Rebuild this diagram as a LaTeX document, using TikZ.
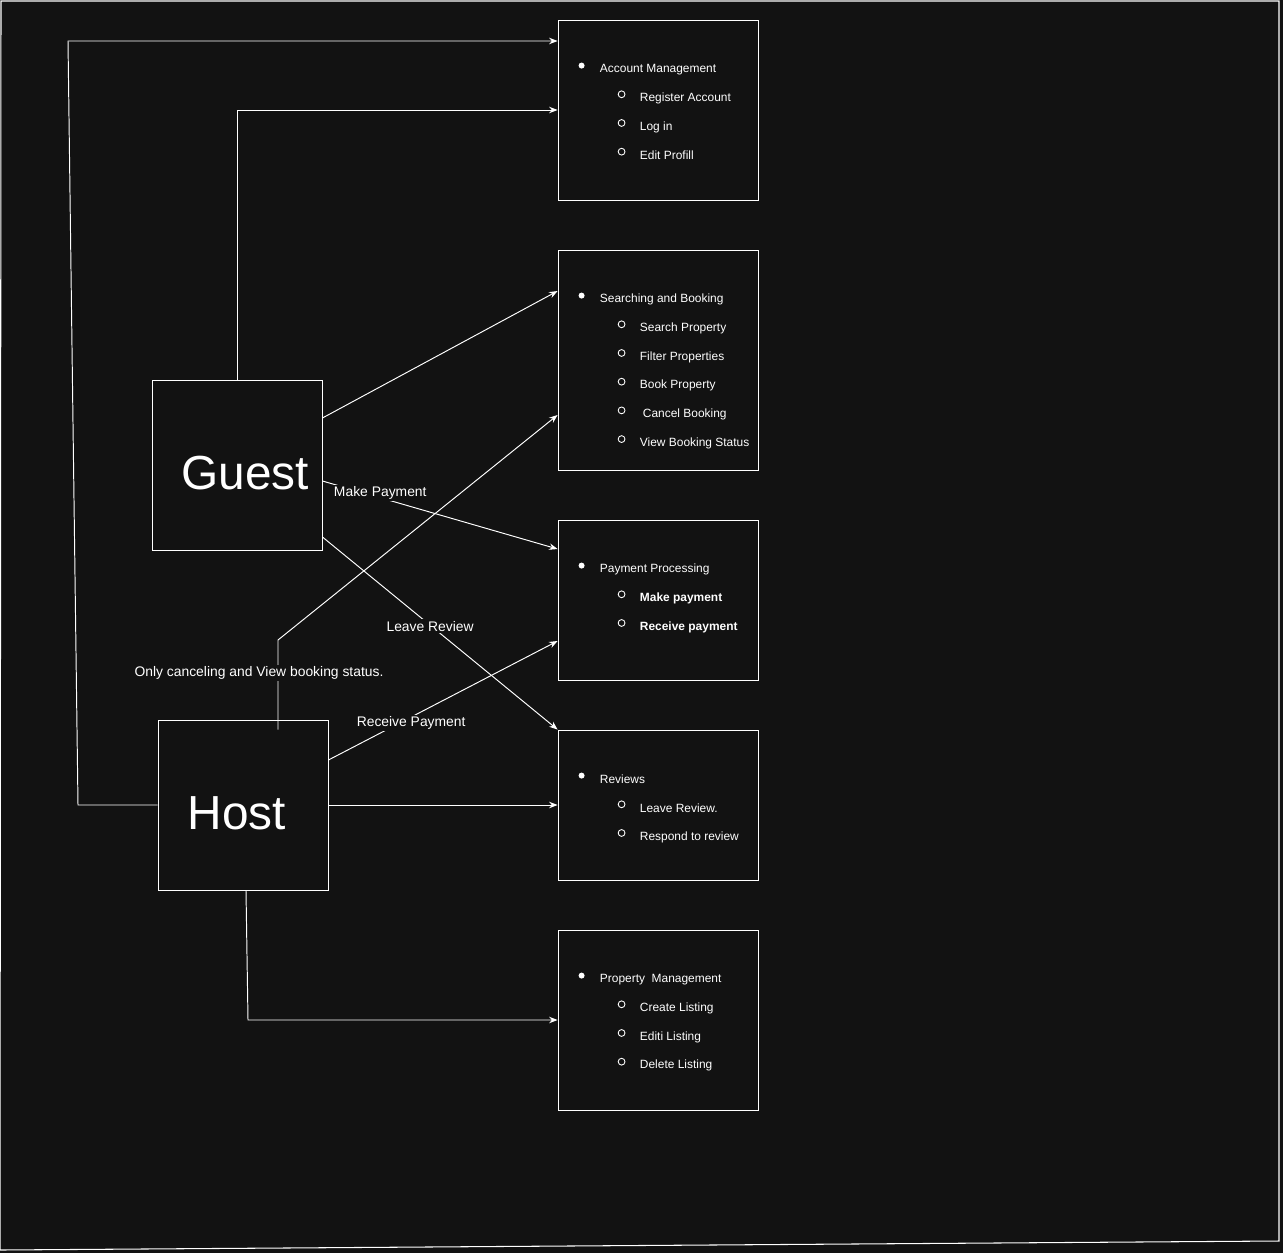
\documentclass[tikz,border=0pt]{standalone}
\usepackage{fontspec}
\setmainfont{Liberation Sans}
\usetikzlibrary{arrows.meta,calc}
\definecolor{bgdark}{RGB}{18,18,18}

\tikzset{
  box/.style={draw=white, line width=0.5pt, minimum width=4cm, inner sep=0pt},
  actor/.style={draw=white, line width=0.5pt, minimum width=3.4cm, minimum height=3.4cm, inner sep=0pt},
  bigtxt/.style={text=white, inner sep=0pt, font=\fontsize{27.2}{30}\selectfont},
  item/.style={anchor=west, inner sep=0pt, text=white, font=\fontsize{6.8}{8}\selectfont},
  lbl/.style={fill=bgdark, text=white, inner sep=1pt, font=\fontsize{7.9}{9}\selectfont},
  flow/.style={draw=white, line width=0.55pt, -{Stealth[length=1.7mm,width=1.3mm]}}
}

\begin{document}
\begin{tikzpicture}[x=0.02cm, y=-0.02cm]
  % background and frame
  \fill[bgdark] (0,0) rectangle (1283,1253);
  \useasboundingbox (0,0) rectangle (1283,1253);
  \draw[white, line width=0.6pt] (1,1) -- (1279,1) -- (1279,1241) -- (0,1250) -- cycle;

  % actors
  \node[actor] (guest) at (237,465) {};
  \node[bigtxt] at ([xshift=0.16cm,yshift=-0.17cm]guest) {Guest};
  \node[actor] (host) at (243,805) {};
  \node[bigtxt] at ([xshift=-0.12cm,yshift=-0.17cm]host) {Host};

  % account management
  \node[box, minimum height=3.6cm] (acct) at (658,110) {};
  \fill[white] ($(acct.north west)+(24,46)$) circle (0.06cm);
  \node[item] at ($(acct.north west)+(42,50)$) {Account Management};
  \foreach \t [count=\i] in {Register Account, Log in, Edit Profill} {
    \draw[white, line width=0.5pt] ($(acct.north west)+(64,{46+28.7*\i})$) circle (0.068cm);
    \node[item] at ($(acct.north west)+(82,{50+28.7*\i})$) {\t};
  }

  % searching and booking
  \node[box, minimum height=4.4cm] (search) at (658,360) {};
  \fill[white] ($(search.north west)+(24,46)$) circle (0.06cm);
  \node[item] at ($(search.north west)+(42,50)$) {Searching and Booking};
  \foreach \t [count=\i] in {Search Property, Filter Properties, Book Property,
      {\hspace{0.06cm}Cancel Booking}, View Booking Status} {
    \draw[white, line width=0.5pt] ($(search.north west)+(64,{46+28.7*\i})$) circle (0.068cm);
    \node[item] at ($(search.north west)+(82,{50+28.7*\i})$) {\t};
  }

  % payment processing
  \node[box, minimum height=3.2cm] (pay) at (658,600) {};
  \fill[white] ($(pay.north west)+(24,46)$) circle (0.06cm);
  \node[item] at ($(pay.north west)+(42,50)$) {Payment Processing};
  \foreach \t [count=\i] in {Make payment, Receive payment} {
    \draw[white, line width=0.5pt] ($(pay.north west)+(64,{46+28.7*\i})$) circle (0.068cm);
    \node[item, font=\fontsize{6.8}{8}\selectfont\bfseries] at ($(pay.north west)+(82,{50+28.7*\i})$) {\t};
  }

  % reviews
  \node[box, minimum height=3cm] (rev) at (658,805) {};
  \fill[white] ($(rev.north west)+(24,46)$) circle (0.06cm);
  \node[item] at ($(rev.north west)+(42,50)$) {Reviews};
  \foreach \t [count=\i] in {Leave Review., Respond to review} {
    \draw[white, line width=0.5pt] ($(rev.north west)+(64,{46+28.7*\i})$) circle (0.068cm);
    \node[item] at ($(rev.north west)+(82,{50+28.7*\i})$) {\t};
  }

  % property management
  \node[box, minimum height=3.6cm] (prop) at (658,1020) {};
  \fill[white] ($(prop.north west)+(24,46)$) circle (0.06cm);
  \node[item] at ($(prop.north west)+(42,50)$) {Property\ \ Management};
  \foreach \t [count=\i] in {Create Listing, Editi Listing, Delete Listing} {
    \draw[white, line width=0.5pt] ($(prop.north west)+(64,{46+28.7*\i})$) circle (0.068cm);
    \node[item] at ($(prop.north west)+(82,{50+28.7*\i})$) {\t};
  }

  % bends
  \coordinate (lb) at (78,805);
  \coordinate (lt) at (68,41);
  \coordinate (hb) at (248,1020);
  \coordinate (hk) at (278,640);

  % guest links
  \draw[flow] (guest.north) |- (acct.west);
  \draw[flow] ([yshift=0.94cm]guest.east) -- ([yshift=1.38cm]search.west);
  \draw[flow] ([yshift=-0.32cm]guest.east) -- node[lbl, pos=0.246, yshift=0.094cm] {Make Payment} ([yshift=1.02cm]pay.west);
  \draw[flow] ([yshift=-1.44cm]guest.east) -- node[lbl, pos=0.458, yshift=-0.02cm] {Leave Review} (rev.north west);

  % host links
  \draw[flow] (host.west) -- (lb) -- (lt) -- (lt -| acct.west);
  \draw[flow] ([xshift=0.7cm,yshift=-0.2cm]host.north) -- node[lbl, pos=0.656, xshift=-0.38cm, yshift=-0.04cm] {Only canceling and View booking status.} (hk) -- ([yshift=-1.1cm]search.west);
  \draw[flow] ([yshift=0.9cm]host.east) -- node[lbl, pos=0.361, yshift=-0.12cm] {Receive Payment} ([yshift=-0.82cm]pay.west);
  \draw[flow] (host.east) -- (rev.west);
  \draw[flow] ([xshift=0.06cm]host.south) -- (hb) -- (prop.west);
\end{tikzpicture}
\end{document}
